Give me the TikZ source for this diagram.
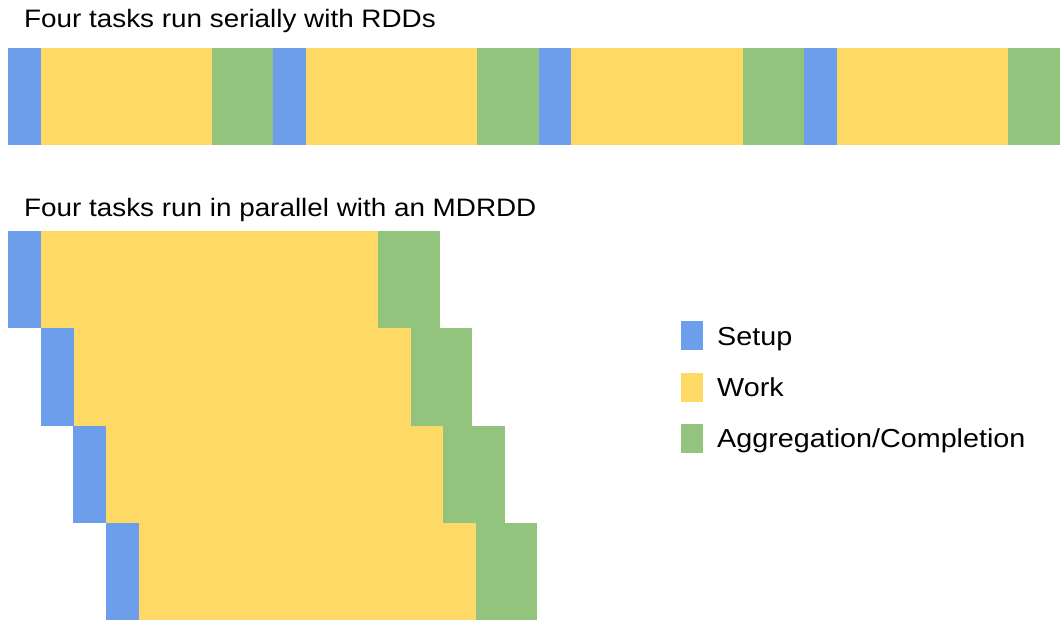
\documentclass[tikz,border=0pt]{standalone}
\usepackage{fontspec}
\setmainfont{Liberation Sans}[FakeStretch=1.105]
\definecolor{setupblue}{HTML}{6D9EEB}
\definecolor{workyellow}{HTML}{FFD966}
\definecolor{aggrgreen}{HTML}{93C47D}
\tikzset{
  setup/.style={fill=setupblue},
  work/.style={fill=workyellow},
  aggr/.style={fill=aggrgreen},
  title/.style={anchor=base west, inner sep=0pt, font=\fontsize{25.2}{30}\selectfont},
  keytext/.style={anchor=base west, inner sep=0pt, font=\fontsize{26}{31}\selectfont}
}
\begin{document}
\begin{tikzpicture}[x=1pt,y=-1pt]
  \useasboundingbox (0,0) rectangle (1060,622);
  \clip (0,0) rectangle (1060,622);

  %Serial
  \node[title] (Serial) at (24,27) {Four tasks run serially with RDDs};
  \foreach \i in {0,...,3}{
    \fill[setup] (8+265.33*\i,48) rectangle ++(32.5,97);
    \fill[work] (40.5+265.33*\i,48) rectangle ++(171.5,97);
    \fill[aggr] (212+265.33*\i,48) rectangle ++(62,97);
  }

  %Parallel
  \node[title] (Parallel) at (24,216.5) {Four tasks run in parallel with an MDRDD};
  \foreach \i in {0,...,3}{
    \fill[setup] (8+32.6*\i,231+97.25*\i) rectangle ++(33,97.25);
    \fill[work] (41+32.6*\i,231+97.25*\i) rectangle ++(337,97.25);
    \fill[aggr] (378+32.6*\i,231+97.25*\i) rectangle ++(61.5,97.25);
  }

  %Legend
  \fill[setup] (681,321) rectangle (703,350);
  \fill[work] (681,372.5) rectangle (703,401.5);
  \fill[aggr] (681,424) rectangle (703,453);
  \node[keytext] (Setup) at (717,345) {Setup};
  \node[keytext] (Work) at (717,396) {Work};
  \node[keytext] (Aggr) at (717,447) {Aggregation/Completion};
\end{tikzpicture}
\end{document}
